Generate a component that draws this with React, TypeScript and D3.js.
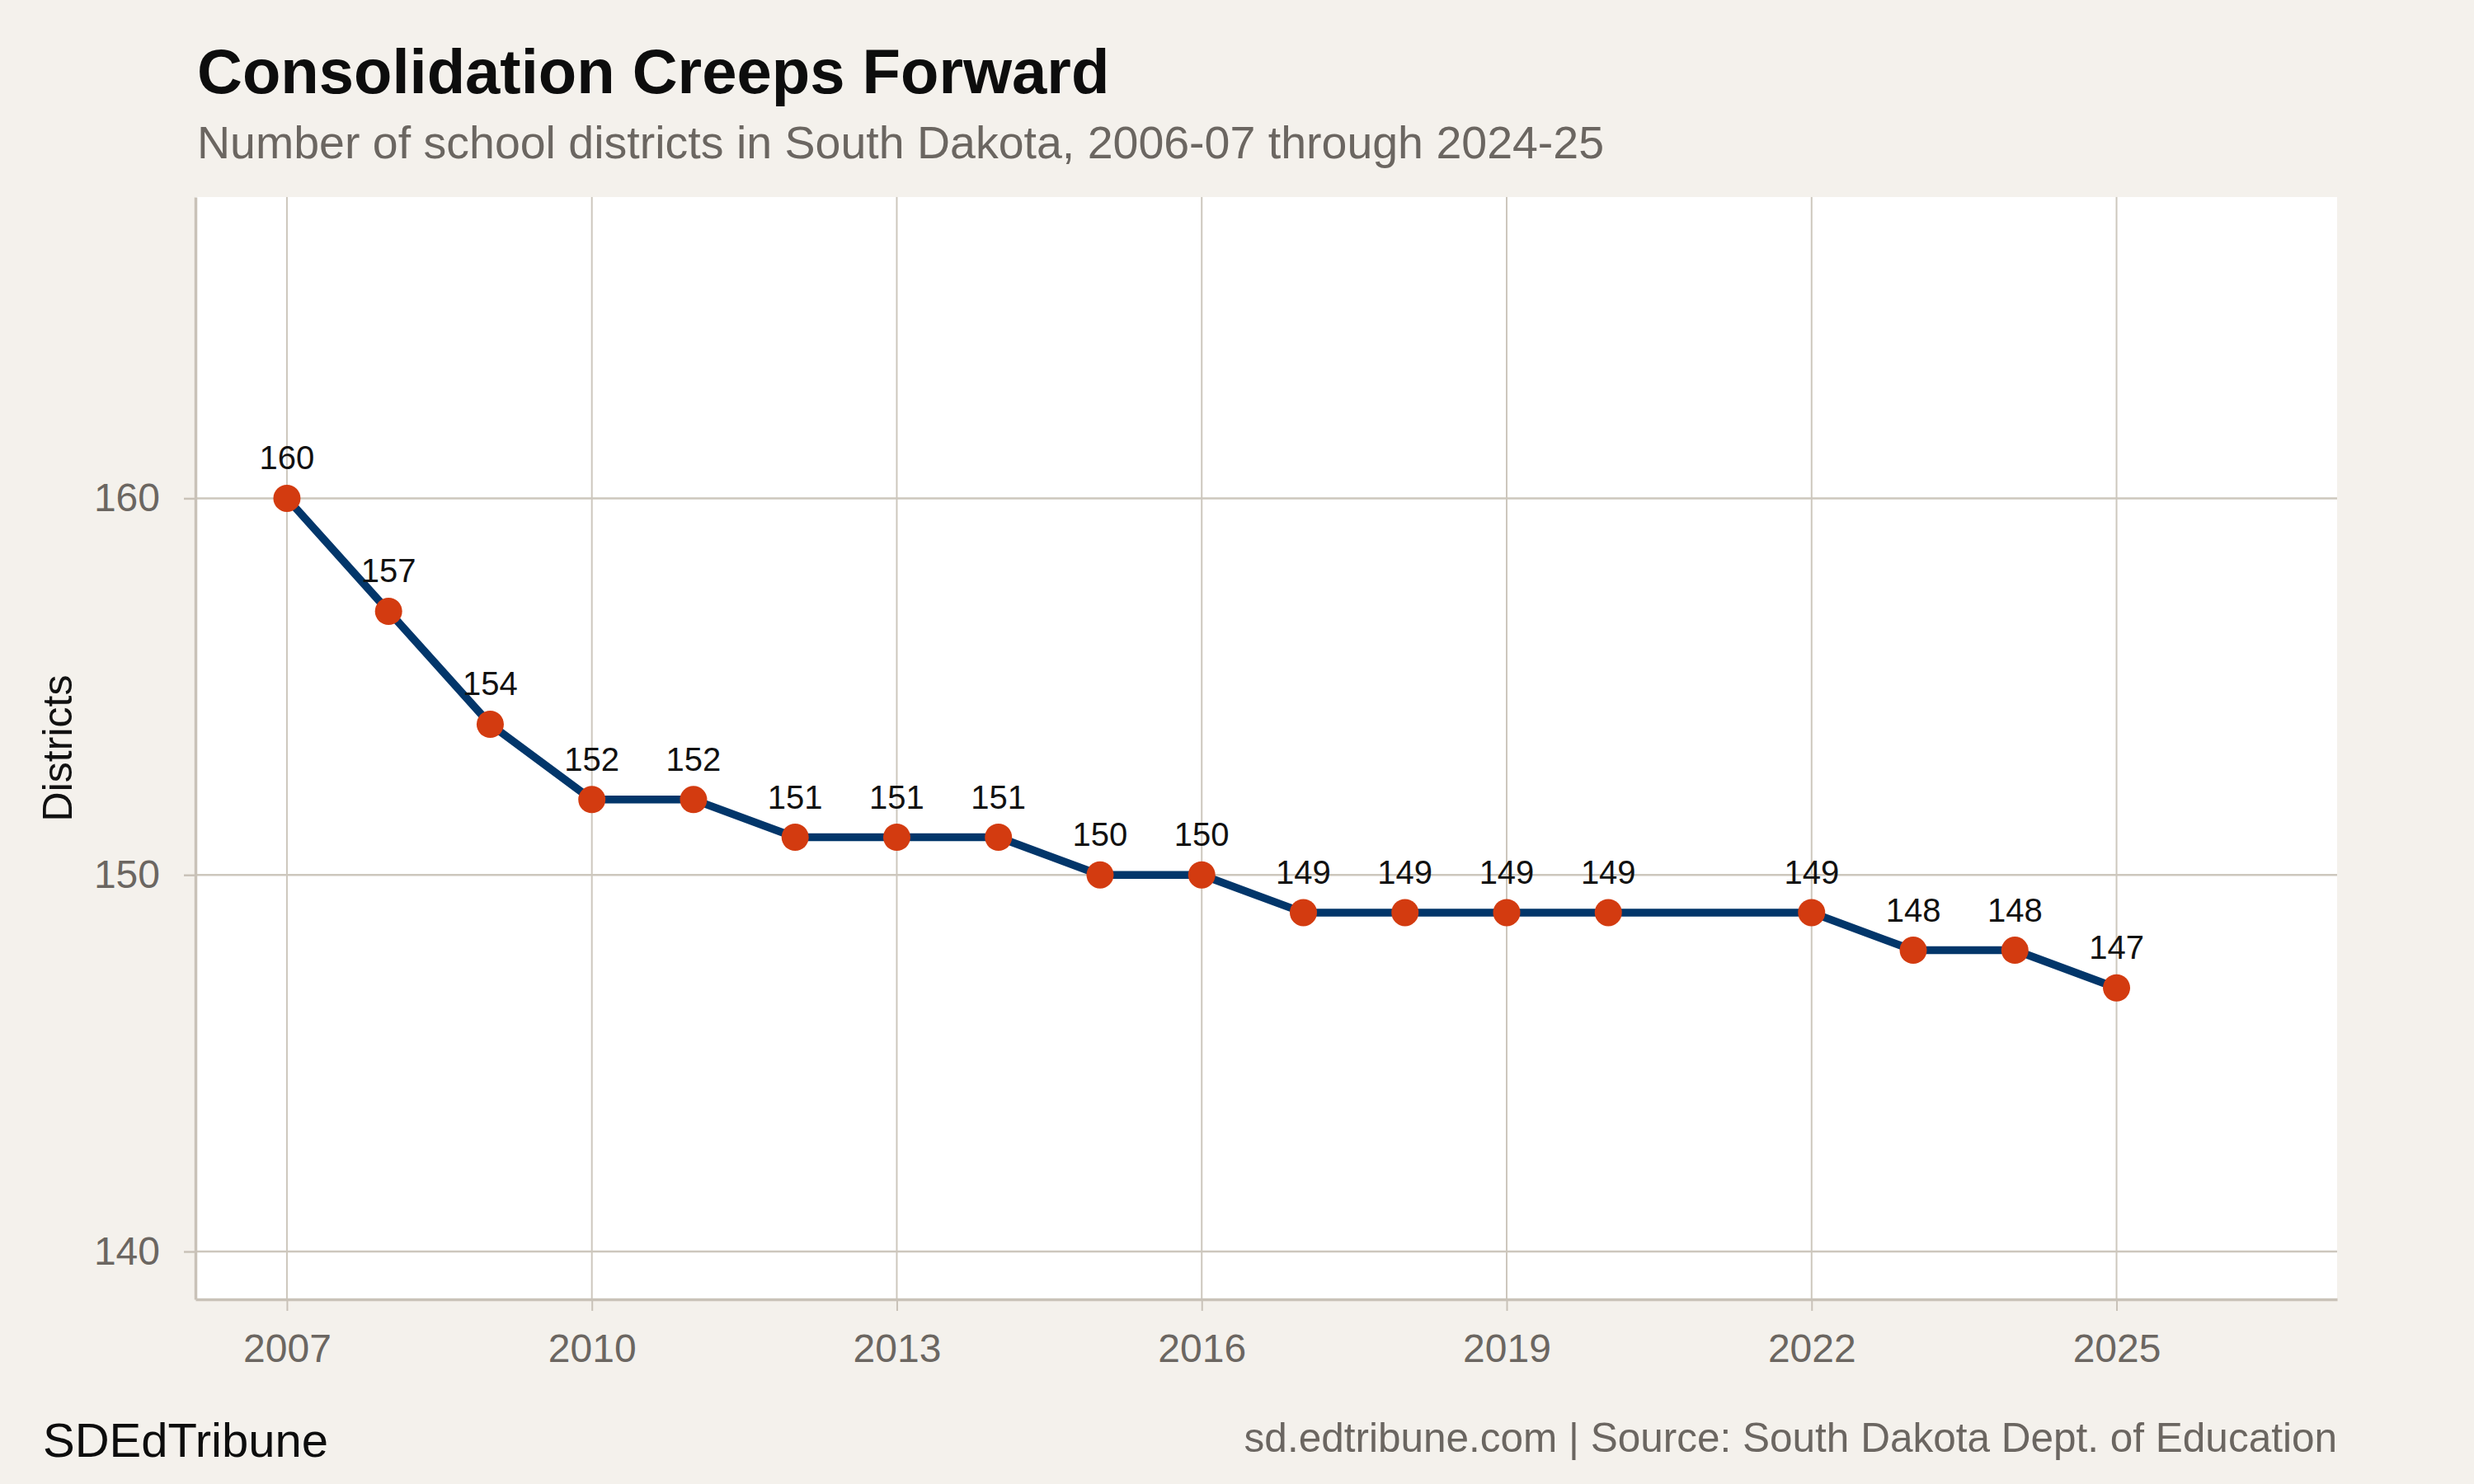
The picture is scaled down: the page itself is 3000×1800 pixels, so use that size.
import React, { useEffect, useRef } from 'react'
import * as d3 from 'd3'

// school years ending (2006-07 -> 2007 ... 2024-25 -> 2025); 2021 not reported
const years = [2007, 2008, 2009, 2010, 2011, 2012, 2013, 2014, 2015, 2016, 2017, 2018, 2019, 2020, 2022, 2023, 2024, 2025]
const districts = [160, 157, 154, 152, 152, 151, 151, 151, 150, 150, 149, 149, 149, 149, 149, 148, 148, 147]
const xTicks = [2007, 2010, 2013, 2016, 2019, 2022, 2025]
const yTicks = [140, 150, 160]

const FONT = '"Liberation Sans", Arial, Helvetica, sans-serif'

export default function App() {
    const svgRef = useRef<SVGSVGElement>(null)
    const width = 3000
    const height = 1800

    useEffect(() => {
        if (!svgRef.current) return
        const svg = d3.select(svgRef.current)
        svg.selectAll("*").remove()

        const panel = { left: 237, right: 2834, top: 239, bottom: 1576 }

        const x = d3.scaleLinear()
            .domain([2006.1, 2027.17])
            .range([panel.left, panel.right])

        const y = d3.scaleLinear()
            .domain([138.73, 168])
            .range([panel.bottom, panel.top])

        const data = years.map((yr, i) => ({ year: yr, value: districts[i] }))

        // background
        svg.append("rect")
            .attr("width", width).attr("height", height)
            .attr("fill", "#f4f1ec")

        svg.append("rect")
            .attr("x", panel.left).attr("y", panel.top)
            .attr("width", panel.right - panel.left)
            .attr("height", panel.bottom - panel.top)
            .attr("fill", "#ffffff")

        // grid
        svg.append("g").selectAll("line")
            .data(xTicks)
            .enter().append("line")
            .attr("x1", d => x(d)).attr("x2", d => x(d))
            .attr("y1", panel.top).attr("y2", panel.bottom)
            .attr("stroke", "#cdc7bd")
            .attr("stroke-width", 2)

        svg.append("g").selectAll("line")
            .data(yTicks)
            .enter().append("line")
            .attr("x1", panel.left).attr("x2", panel.right)
            .attr("y1", d => y(d)).attr("y2", d => y(d))
            .attr("stroke", "#cdc7bd")
            .attr("stroke-width", 2.5)

        // axes
        const xAxis = svg.append("g")
            .attr("transform", `translate(0,${panel.bottom})`)
            .call(d3.axisBottom(x).tickValues(xTicks).tickFormat(d3.format("d")).tickSize(14).tickSizeOuter(0).tickPadding(28))
        xAxis.select(".domain").attr("stroke", "#c9c2b8").attr("stroke-width", 3.5)
        xAxis.selectAll(".tick line").attr("stroke", "#c9c2b8").attr("stroke-width", 2)
        xAxis.selectAll(".tick text")
            .attr("fill", "#6b6661")
            .style("font-family", FONT)
            .style("font-size", "48px")

        const yAxis = svg.append("g")
            .attr("transform", `translate(${panel.left},0)`)
            .call(d3.axisLeft(y).tickValues(yTicks).tickFormat(d3.format("d")).tickSize(14).tickSizeOuter(0).tickPadding(29))
        yAxis.select(".domain").attr("stroke", "#c9c2b8").attr("stroke-width", 3.5)
        yAxis.selectAll(".tick line").attr("stroke", "#c9c2b8").attr("stroke-width", 2.5)
        yAxis.selectAll(".tick text")
            .attr("fill", "#6b6661")
            .style("font-family", FONT)
            .style("font-size", "48px")

        // line
        const line = d3.line<typeof data[0]>()
            .x(d => x(d.year))
            .y(d => y(d.value))

        svg.append("path")
            .datum(data)
            .attr("fill", "none")
            .attr("stroke", "#02366a")
            .attr("stroke-width", 9.5)
            .attr("stroke-linejoin", "round")
            .attr("d", line)

        // points
        svg.append("g").selectAll("circle")
            .data(data)
            .enter().append("circle")
            .attr("cx", d => x(d.year))
            .attr("cy", d => y(d.value))
            .attr("r", 16.5)
            .attr("fill", "#d33b10")

        // value labels
        svg.append("g").selectAll("text")
            .data(data)
            .enter().append("text")
            .attr("x", d => x(d.year))
            .attr("y", d => y(d.value) - 35)
            .attr("text-anchor", "middle")
            .attr("fill", "#111111")
            .style("font-family", FONT)
            .style("font-size", "40px")
            .text(d => d.value)

        // y title
        svg.append("text")
            .attr("transform", `translate(87,${(panel.top + panel.bottom) / 2}) rotate(-90)`)
            .attr("text-anchor", "middle")
            .attr("fill", "#111111")
            .style("font-family", FONT)
            .style("font-size", "50px")
            .text("Districts")

        // title + subtitle
        svg.append("text")
            .attr("x", 239).attr("y", 113)
            .attr("fill", "#0d0d0d")
            .style("font-family", FONT)
            .style("font-weight", "bold")
            .style("font-size", "76px")
            .text("Consolidation Creeps Forward")

        svg.append("text")
            .attr("x", 239).attr("y", 192)
            .attr("fill", "#6b6661")
            .style("font-family", FONT)
            .style("font-size", "55.5px")
            .text("Number of school districts in South Dakota, 2006-07 through 2024-25")

        // footer
        svg.append("text")
            .attr("x", 52).attr("y", 1767)
            .attr("fill", "#0d0d0d")
            .style("font-family", FONT)
            .style("font-size", "58px")
            .text("SDEdTribune")

        svg.append("text")
            .attr("x", panel.right).attr("y", 1761)
            .attr("text-anchor", "end")
            .attr("fill", "#6b6661")
            .style("font-family", FONT)
            .style("font-size", "49.5px")
            .text("sd.edtribune.com | Source: South Dakota Dept. of Education")
    }, [])

    return (
        <div style={{ position: 'absolute', left: 0, top: 0 }}>
            <svg ref={svgRef} width={width} height={height} viewBox={`0 0 ${width} ${height}`} style={{ display: 'block' }} />
        </div>
    )
}
